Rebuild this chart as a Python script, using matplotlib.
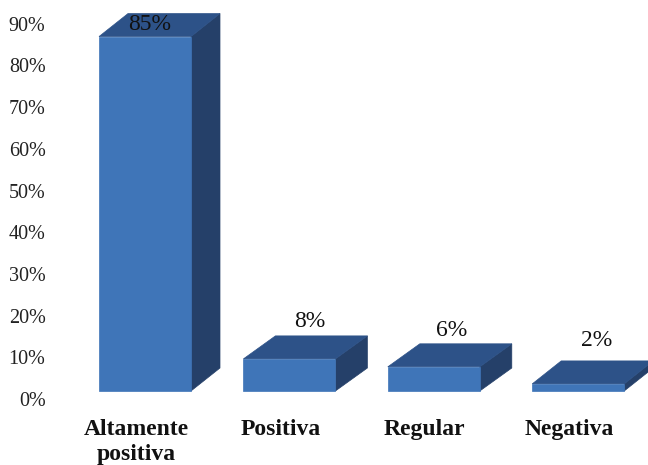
import matplotlib.pyplot as plt
from matplotlib.patches import Polygon

plt.rcParams['font.family'] = ['Liberation Serif', 'DejaVu Serif']

categories = ['Altamente\npositiva', 'Positiva', 'Regular', 'Negativa']
values = [85, 8, 6, 2]
bar_heights = [85, 7.7, 5.8, 1.7]
y_ticks = [0, 10, 20, 30, 40, 50, 60, 70, 80, 90]

W, H = 648, 465
AX_LEFT, AX_RIGHT = 56, 648
AX_TOP, AX_BOTTOM = 5, 399      # pixels from the top
PX_PER_CAT = 144.4
PX_PER_PCT = 4.17
TICK_X0 = 136

FRONT = '#3F75B8'
TOP = '#2D5288'
SIDE = '#254069'

bar_w = 92 / PX_PER_CAT
bar_shift = 9 / PX_PER_CAT
depth_px = [29, 32, 32, 29]
depth_y = 23 / PX_PER_PCT
base = 8 / PX_PER_PCT

label_dx = [5, 20, 18, 18]
label_dy = [13, 38, 37, 44]

fig = plt.figure(figsize=(W / 100, H / 100), dpi=100)
ax = fig.add_axes([AX_LEFT / W, 1 - AX_BOTTOM / H, (AX_RIGHT - AX_LEFT) / W, (AX_BOTTOM - AX_TOP) / H])
ax.set_xlim((AX_LEFT - TICK_X0) / PX_PER_CAT, (AX_RIGHT - TICK_X0) / PX_PER_CAT)
ax.set_ylim(0, (AX_BOTTOM - AX_TOP) / PX_PER_PCT)

for i, v in enumerate(values):
    depth_x = depth_px[i] / PX_PER_CAT
    x0 = i + bar_shift - bar_w / 2
    x1 = x0 + bar_w
    y0 = base
    y1 = base + bar_heights[i]
    ax.add_patch(Polygon([(x1, y0), (x1 + depth_x, y0 + depth_y), (x1 + depth_x, y1 + depth_y), (x1, y1)],
                         fc=SIDE, ec=SIDE, lw=0.5, clip_on=False))
    ax.add_patch(Polygon([(x0, y1), (x1, y1), (x1 + depth_x, y1 + depth_y), (x0 + depth_x, y1 + depth_y)],
                         fc=TOP, ec=TOP, lw=0.5, clip_on=False))
    ax.add_patch(Polygon([(x0, y0), (x1, y0), (x1, y1), (x0, y1)], fc=FRONT, ec=FRONT, lw=0.5, clip_on=False))
    ax.annotate(f'{v}%', (i + bar_shift, y1), xytext=(label_dx[i] * 0.72, (label_dy[i] - 1) * 0.72),
                textcoords='offset points', ha='center', va='center', fontsize=17, color='#111111',
                annotation_clip=False)

ax.set_yticks(y_ticks)
ax.set_yticklabels([f'{t}%' for t in y_ticks], fontsize=14.5, color='#222222')
ax.set_xticks(range(len(categories)))
ax.set_xticklabels(categories, fontsize=17, fontweight='bold', color='#111111', linespacing=1.25)
ax.tick_params(axis='both', length=0)
ax.tick_params(axis='x', pad=14.5)
ax.tick_params(axis='y', pad=7.5)
for s in ax.spines.values():
    s.set_visible(False)

fig.savefig('out.png', dpi=100)
